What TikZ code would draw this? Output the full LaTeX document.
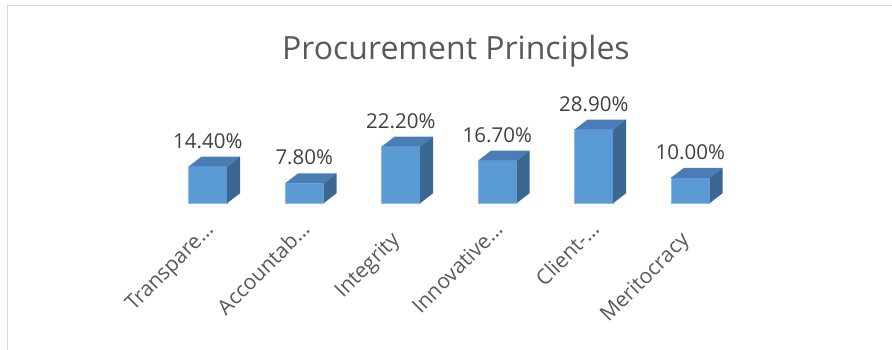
\documentclass[tikz,border=0pt]{standalone}
\usepackage{fontspec}
\setmainfont{Open Sans}
\usetikzlibrary{positioning,fit}
\definecolor{barfront}{HTML}{5B9BD5}
\definecolor{bartop}{HTML}{4A7DB5}
\definecolor{barside}{HTML}{3B6893}
\definecolor{framegray}{HTML}{D9D9D9}
\definecolor{valgray}{HTML}{404040}
\definecolor{titlegray}{HTML}{595959}

\begin{document}
\begin{tikzpicture}[x=1pt, y=1pt,
    every fit/.style={inner sep=0pt, outer sep=0pt},
    front/.style={fill=barfront, draw=barfront!70!white, line width=0.6pt},
    topface/.style={fill=bartop},
    sideface/.style={fill=barside},
    val/.style={text=valgray, font=\fontsize{20.5}{24}\selectfont, inner sep=0pt},
    cat/.style={text=titlegray, font=\fontsize{21}{24}\selectfont, inner sep=0pt, rotate=45}]
  \useasboundingbox (0,0) rectangle (892,350);
  \draw[framegray, line width=1.3pt] (7.3,0) -- (7.3,344.7) -- (892,344.7);
  \node[anchor=base, text=titlegray, font=\fontsize{32}{38}\selectfont] (title) at (456,290) {Procurement Principles};

  % bars, front faces
  \node [front, fit={(188.5,146.7) (227.0,183.4)}] (transp) {};
  \node [front, fit={(285.0,146.7) (323.5,166.6)}] (accnt) {};
  \node [front, fit={(381.5,146.7) (420.0,203.3)}] (integ) {};
  \node [front, fit={(478.0,146.7) (516.5,189.3)}] (innov) {};
  \node [front, fit={(574.5,146.7) (613.0,220.4)}] (client) {};
  \node [front, fit={(671.0,146.7) (709.5,172.2)}] (merit) {};
  \foreach \b in {transp,accnt,integ,innov,client,merit} {
    \fill[topface] (\b.north west) -- ++(13,10) -- ++(38.5,0) -- (\b.north east) -- cycle;
    \fill[sideface] (\b.south east) -- (\b.north east) -- ++(13,10) -- ([shift={(13,10)}]\b.south east) -- cycle;
  }

  % values
  \node [val, above=18.5pt of transp, anchor=base] (transpval) {14.40\%};
  \node [val, above=18.5pt of accnt, anchor=base] (accntval) {7.80\%};
  \node [val, above=18.5pt of integ, anchor=base] (integval) {22.20\%};
  \node [val, above=18.5pt of innov, anchor=base] (innovval) {16.70\%};
  \node [val, above=18.5pt of client, anchor=base] (clientval) {28.90\%};
  \node [val, above=18.5pt of merit, anchor=base] (meritval) {10.00\%};

  % categories
  \node [cat, anchor=base east] (transpcat) at ([shift={(7,-27.7)}]transp.south) {Transpare…};
  \node [cat, anchor=base east] (accntcat) at ([shift={(7,-27.7)}]accnt.south) {Accountab…};
  \node [cat, anchor=base east] (integcat) at ([shift={(0,-38)}]integ.south) {Integrity};
  \node [cat, anchor=base east] (innovcat) at ([shift={(7,-27.7)}]innov.south) {Innovative…};
  \node [cat, anchor=base east] (clientcat) at ([shift={(7,-27.7)}]client.south) {Client-…};
  \node [cat, anchor=base east] (meritcat) at ([shift={(0,-38)}]merit.south) {Meritocracy};
\end{tikzpicture}
\end{document}
